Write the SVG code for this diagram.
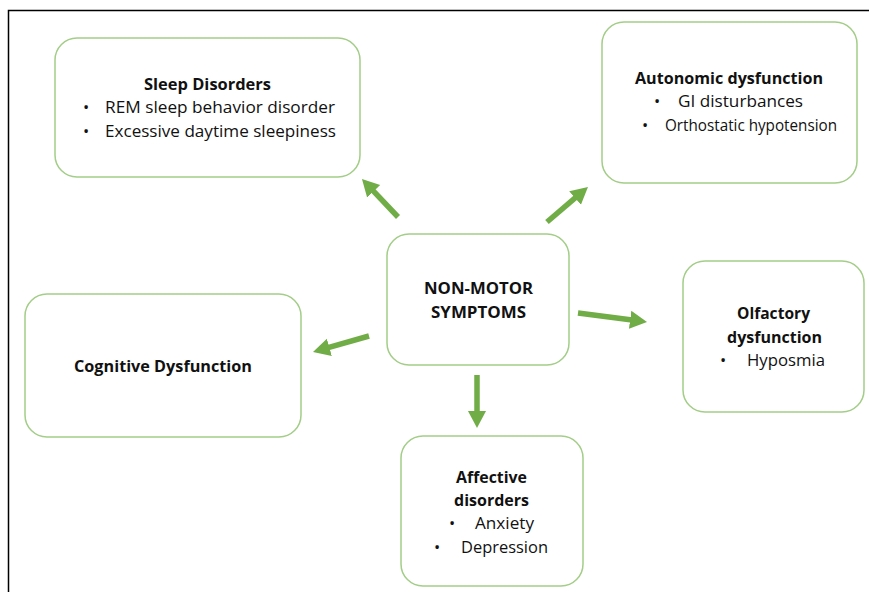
<svg xmlns="http://www.w3.org/2000/svg" width="869" height="592" viewBox="0 0 869 592">
<defs>
<style>
.box{fill:#fff;stroke:#A3CD88;stroke-width:1.5}
.t{font-family:"Open Sans","Noto Sans","Liberation Sans",sans-serif;font-size:16.5px;fill:#111}
.b{font-weight:bold}
.m{text-anchor:middle}
.c{stroke:#70AD47;stroke-width:5.5;fill:none}
</style>
<marker id="ah" markerUnits="userSpaceOnUse" markerWidth="22" markerHeight="22" viewBox="0 0 22 22" refX="4" refY="11" orient="auto">
<path d="M0,2 L17,11 L0,20 Z" fill="#70AD47"/>
</marker>
</defs>
<rect width="869" height="592" fill="#fff"/>
<path d="M8.5,592 V10.5 H869" fill="none" stroke="#000" stroke-width="1.5"/>

<g id="connectors">
<line class="c" x1="398" y1="217" x2="370.9" y2="188.4" marker-end="url(#ah)"/>
<line class="c" x1="547" y1="222" x2="578.1" y2="195.4" marker-end="url(#ah)"/>
<line class="c" x1="578" y1="313" x2="634.1" y2="320.3" marker-end="url(#ah)"/>
<line class="c" x1="369" y1="336" x2="325.5" y2="348.4" marker-end="url(#ah)"/>
<line class="c" x1="477" y1="375" x2="477" y2="415" marker-end="url(#ah)"/>
</g>

<g id="sleep">
<rect class="box" x="55" y="38" width="305" height="139" rx="22"/>
<text class="t b m" x="207.5" y="90" textLength="127" lengthAdjust="spacingAndGlyphs">Sleep Disorders</text>
<text class="t" x="83" y="113">•</text>
<text class="t" x="105" y="113" textLength="230" lengthAdjust="spacingAndGlyphs">REM sleep behavior disorder</text>
<text class="t" x="83" y="137">•</text>
<text class="t" x="105" y="137" textLength="231" lengthAdjust="spacingAndGlyphs">Excessive daytime sleepiness</text>
</g>

<g id="autonomic">
<rect class="box" x="602" y="22" width="255" height="161" rx="22"/>
<text class="t b m" x="729" y="84" textLength="188" lengthAdjust="spacingAndGlyphs">Autonomic dysfunction</text>
<text class="t" x="654" y="107">•</text>
<text class="t" x="678" y="107" textLength="125" lengthAdjust="spacingAndGlyphs">GI disturbances</text>
<text class="t" x="642" y="131">•</text>
<text class="t" x="665" y="131" textLength="172" lengthAdjust="spacingAndGlyphs">Orthostatic hypotension</text>
</g>

<g id="center">
<rect class="box" x="387" y="234" width="182" height="131" rx="22"/>
<text class="t b m" x="478.5" y="294" textLength="109" lengthAdjust="spacingAndGlyphs">NON-MOTOR</text>
<text class="t b m" x="478.5" y="318" textLength="95" lengthAdjust="spacingAndGlyphs">SYMPTOMS</text>
</g>

<g id="cognitive">
<rect class="box" x="25" y="294" width="276" height="143" rx="22"/>
<text class="t b m" x="163" y="372" textLength="178" lengthAdjust="spacingAndGlyphs">Cognitive Dysfunction</text>
</g>

<g id="affective">
<rect class="box" x="401" y="436" width="182" height="150" rx="22"/>
<text class="t b m" x="491.5" y="483" textLength="71" lengthAdjust="spacingAndGlyphs">Affective</text>
<text class="t b m" x="491.5" y="506" textLength="75" lengthAdjust="spacingAndGlyphs">disorders</text>
<text class="t" x="449" y="529">•</text>
<text class="t" x="475" y="529" textLength="59" lengthAdjust="spacingAndGlyphs">Anxiety</text>
<text class="t" x="434" y="553">•</text>
<text class="t" x="461" y="553" textLength="87" lengthAdjust="spacingAndGlyphs">Depression</text>
</g>

<g id="olfactory">
<rect class="box" x="683" y="261" width="181" height="151" rx="22"/>
<text class="t b m" x="773.5" y="319" textLength="73" lengthAdjust="spacingAndGlyphs">Olfactory</text>
<text class="t b m" x="774.5" y="343" textLength="95" lengthAdjust="spacingAndGlyphs">dysfunction</text>
<text class="t" x="720" y="366">•</text>
<text class="t" x="747" y="366" textLength="78" lengthAdjust="spacingAndGlyphs">Hyposmia</text>
</g>
</svg>
